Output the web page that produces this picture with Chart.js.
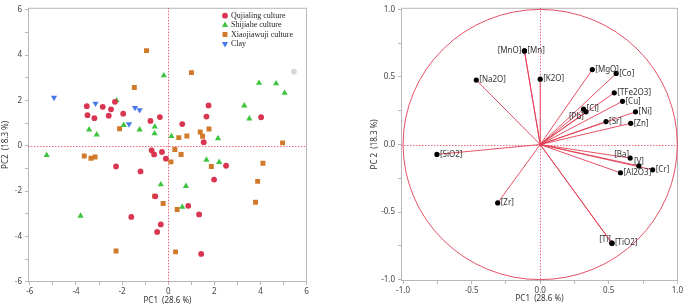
<!DOCTYPE html>
<html lang="en">
<head>
<meta charset="UTF-8">
<title>PCA scores and loadings</title>
<script src="https://cdn.jsdelivr.net/npm/chart.js"></script>
<style>
  body { margin: 0; background: #fff; }
  .box { position: absolute; top: 0; width: 340px; height: 306px; }
  #left { left: 0; }
  #right { left: 345px; }
</style>
</head>
<body>
<div class="box" id="left"><canvas id="scoreChart" width="340" height="306"></canvas></div>
<div class="box" id="right"><canvas id="loadChart" width="340" height="306"></canvas></div>
<script>
// ---- scores plot: [PC1, PC2] per sample ----
const qujialing = [
  [-3.53, 1.75], [-3.5, 1.35], [-3.2, 1.22], [-2.84, 1.72], [-2.48, 1.61], [-2.58, 1.33],
  [-2.31, 1.94], [-1.95, 1.42], [-0.77, 1.1], [-0.36, 1.27], [0.61, 0.96], [1.75, 1.78],
  [1.66, 1.29], [1.54, 0.16], [4.03, 1.26], [-0.72, -0.2], [-0.61, -0.38], [-0.27, -0.27],
  [-0.1, -0.57], [-2.26, -0.91], [-1.2, -1.13], [1.99, -1.49], [2.51, -0.88], [-0.56, -2.23],
  [0.87, -2.65], [1.34, -3.03], [-1.6, -3.14], [-0.32, -3.47], [-0.48, -3.8], [1.43, -4.77]
];
const outlier = [[5.45, 3.27]];
const shijiahe = [
  [-5.27, -0.42], [-3.43, 0.71], [-3.1, 0.49], [-2.24, 2.0], [-1.93, 0.91], [-1.24, 0.71],
  [-0.58, 0.84], [-0.59, 0.54], [-0.19, 3.1], [0.14, 0.42], [2.16, 0.33], [3.3, 1.77],
  [3.52, 1.2], [3.94, 2.77], [4.68, 2.75], [5.05, 2.33], [1.66, -0.62], [2.21, -0.72],
  [-0.32, -1.71], [0.77, -1.78], [0.61, -2.7], [-3.8, -3.09]
];
const xiaojiawuji = [
  [-0.94, 4.2], [1.01, 3.23], [-1.47, 2.57], [-2.11, 0.75], [1.39, 0.61], [1.49, 0.42],
  [1.77, 0.74], [0.46, 0.36], [0.81, 0.43], [4.96, 0.13], [-3.64, -0.45], [-3.35, -0.55],
  [-3.17, -0.49], [0.29, -0.16], [0.56, -0.38], [0.12, -0.71], [1.87, -0.91], [4.11, -0.77],
  [3.88, -1.57], [3.79, -2.49], [-0.59, -2.22], [-0.22, -2.55], [0.39, -2.81], [-2.26, -4.64],
  [0.32, -4.68]
];
const clay = [[-4.95, 2.13], [-3.15, 1.87], [-1.7, 0.96], [-1.44, 1.68], [-1.24, 1.58]];
const scoreTicks = [-6, -5, -4, -3, -2, -1, 0, 1, 2, 3, 4, 5, 6];

// ---- loadings plot ----
const loadNames = ['MnO', 'Mn', 'Na2O', 'K2O', 'MgO', 'Co', 'TFe2O3', 'Cu', 'Cl', 'Pb', 'Ni',
  'Sr', 'Zn', 'SiO2', 'Ba', 'V', 'Cr', 'Al2O3', 'Zr', 'Ti', 'TiO2'];
const loadPC1 = [-0.115, -0.115, -0.466, 0.0, 0.38, 0.554, 0.54, 0.6, 0.316, 0.334, 0.695,
  0.48, 0.66, -0.753, 0.656, 0.72, 0.82, 0.585, -0.31, 0.523, 0.523];
const loadPC2 = [0.693, 0.693, 0.477, 0.484, 0.555, 0.526, 0.383, 0.32, 0.262, 0.242, 0.242,
  0.17, 0.157, -0.073, -0.1, -0.158, -0.187, -0.209, -0.432, -0.73, -0.73];
const loadTicks = [-1, -0.75, -0.5, -0.25, 0, 0.25, 0.5, 0.75, 1];

// where each loading label sits relative to its point
const labelSide = { MnO: 'left', Pb: 'belowLeft', Ba: 'aboveLeft', V: 'above', Ti: 'aboveLeft' };

const toXY = arr => arr.map(p => ({ x: p[0], y: p[1] }));
const tickFont = { family: '"Noto Sans", "Open Sans", sans-serif', size: 8 };
const titleFont = { family: '"Noto Sans", "Open Sans", sans-serif', size: 8 };
const red = 'rgba(226, 62, 84, 0.9)';

// dotted red lines through the origin + grey frame
const zeroLines = {
  id: 'zeroLines',
  beforeDatasetsDraw(chart) {
    const { ctx, chartArea: a, scales: { x, y } } = chart;
    const x0 = x.getPixelForValue(0), y0 = y.getPixelForValue(0);
    ctx.save();
    ctx.strokeStyle = '#b8b8b8';
    ctx.lineWidth = 1;
    ctx.strokeRect(a.left + 0.5, a.top + 0.5, a.width - 1, a.height - 1);
    ctx.strokeStyle = 'rgba(230, 80, 100, 0.85)';
    ctx.setLineDash([1.5, 1.5]);
    ctx.beginPath();
    ctx.moveTo(Math.round(x0) + 0.5, a.top);
    ctx.lineTo(Math.round(x0) + 0.5, a.bottom);
    ctx.moveTo(a.left, Math.round(y0) + 0.5);
    ctx.lineTo(a.right, Math.round(y0) + 0.5);
    ctx.stroke();
    ctx.restore();
  }
};

// legend drawn inside the plot, top right
const scoreLegend = {
  id: 'scoreLegend',
  afterDraw(chart) {
    const ctx = chart.ctx;
    ctx.save();
    ctx.font = '8px "Liberation Serif", "Times New Roman", serif';
    ctx.textBaseline = 'middle';
    let y = 15.7;
    chart.data.datasets.forEach(ds => {
      if (!ds.label) return;
      ctx.fillStyle = ds.backgroundColor;
      Chart.helpers.drawPoint(ctx, { pointStyle: ds.pointStyle, rotation: ds.rotation || 0, radius: ds.pointRadius, borderWidth: 0 }, 225, y);
      ctx.fillStyle = '#222';
      ctx.fillText(ds.label, 231, y);
      y += 9.4;
    });
    ctx.restore();
  }
};

new Chart(document.getElementById('scoreChart'), {
  type: 'scatter',
  data: {
    datasets: [
      { label: 'Qujialing culture', data: toXY(qujialing), pointStyle: 'circle', pointRadius: 2.9, backgroundColor: '#d93551', borderWidth: 0 },
      { label: 'Shijiahe culture', data: toXY(shijiahe), pointStyle: 'triangle', pointRadius: 3.6, backgroundColor: '#3fc43f', borderWidth: 0 },
      { label: 'Xiaojiawuji culture', data: toXY(xiaojiawuji), pointStyle: 'rect', pointRadius: 3.5, backgroundColor: '#d27a2b', borderWidth: 0 },
      { label: 'Clay', data: toXY(clay), pointStyle: 'triangle', rotation: 180, pointRadius: 3.6, backgroundColor: '#4a7ae8', borderWidth: 0 },
      { label: '', data: toXY(outlier), pointStyle: 'circle', pointRadius: 2.9, backgroundColor: '#d6d6d6', borderWidth: 0 }
    ]
  },
  options: {
    responsive: false,
    animation: false,
    events: [],
    layout: { padding: { top: 3, right: 33, left: 0, bottom: 0 } },
    plugins: { legend: { display: false }, tooltip: { enabled: false } },
    scales: {
      x: {
        type: 'linear', min: -6.08, max: 6.02,
        afterBuildTicks: s => { s.ticks = scoreTicks.map(v => ({ value: v })); },
        afterFit: s => { s.height = 24; },
        ticks: { autoSkip: false, maxRotation: 0, padding: 2, font: tickFont, color: '#444',
          callback: v => (v % 2 === 0 ? String(v) : '') },
        grid: { drawOnChartArea: false, tickLength: 3, color: '#b8b8b8' },
        border: { display: false },
        title: { display: true, text: 'PC1  (28.6 %)', font: titleFont, color: '#333', padding: { top: 0, bottom: 0 } }
      },
      y: {
        type: 'linear', min: -6.01, max: 6.09,
        afterBuildTicks: s => { s.ticks = scoreTicks.map(v => ({ value: v })); },
        afterFit: s => { s.width = 28; },
        ticks: { autoSkip: false, padding: 3, font: tickFont, color: '#444',
          callback: v => (v % 2 === 0 ? String(v) : '') },
        grid: { drawOnChartArea: false, tickLength: 3, color: '#b8b8b8' },
        border: { display: false },
        title: { display: true, text: 'PC2  (18.3 %)', font: titleFont, color: '#333', padding: { top: 1, bottom: 0 } }
      }
    }
  },
  plugins: [zeroLines, scoreLegend]
});

// unit circle, vectors from the origin and point labels
const loadingArt = {
  id: 'loadingArt',
  beforeDatasetsDraw(chart) {
    const { ctx, scales: { x, y } } = chart;
    const x0 = x.getPixelForValue(0), y0 = y.getPixelForValue(0);
    ctx.save();
    ctx.strokeStyle = red;
    ctx.lineWidth = 1;
    ctx.beginPath();
    ctx.ellipse(x0, y0, x.getPixelForValue(1) - x0, y0 - y.getPixelForValue(1), 0, 0, Math.PI * 2);
    ctx.stroke();
    ctx.beginPath();
    loadPC1.forEach((v, i) => {
      ctx.moveTo(x0, y0);
      ctx.lineTo(x.getPixelForValue(v), y.getPixelForValue(loadPC2[i]));
    });
    ctx.stroke();
    ctx.restore();
  },
  afterDatasetsDraw(chart) {
    const { ctx, scales: { x, y } } = chart;
    ctx.save();
    ctx.font = '8px "Noto Sans", "Open Sans", sans-serif';
    ctx.fillStyle = '#333';
    ctx.textBaseline = 'middle';
    loadNames.forEach((name, i) => {
      const px = x.getPixelForValue(loadPC1[i]);
      const py = y.getPixelForValue(loadPC2[i]);
      const text = '[' + name + ']';
      const side = labelSide[name] || 'right';
      if (side === 'left') { ctx.textAlign = 'right'; ctx.fillText(text, px - 3, py); }
      else if (side === 'aboveLeft') { ctx.textAlign = 'right'; ctx.fillText(text, px - 1, py - 3.5); }
      else if (side === 'belowLeft') { ctx.textAlign = 'right'; ctx.fillText(text, px - 2, py + 4.5); }
      else if (side === 'above') { ctx.textAlign = 'center'; ctx.fillText(text, px, py - 4); }
      else { ctx.textAlign = 'left'; ctx.fillText(text, px + 3, py); }
    });
    ctx.restore();
  }
};

new Chart(document.getElementById('loadChart'), {
  type: 'scatter',
  data: {
    datasets: [{
      label: 'Loadings',
      data: loadPC1.map((v, i) => ({ x: v, y: loadPC2[i] })),
      pointStyle: 'circle', pointRadius: 2.6, backgroundColor: '#000', borderWidth: 0
    }]
  },
  options: {
    responsive: false,
    animation: false,
    events: [],
    layout: { padding: { top: 3, right: 6, left: 0, bottom: 0 } },
    plugins: { legend: { display: false }, tooltip: { enabled: false } },
    scales: {
      x: {
        type: 'linear', min: -1.015, max: 1.005,
        afterBuildTicks: s => { s.ticks = loadTicks.map(v => ({ value: v })); },
        afterFit: s => { s.height = 25; },
        ticks: { autoSkip: false, maxRotation: 0, padding: 2, font: tickFont, color: '#444',
          callback: v => (Math.abs(v * 2 - Math.round(v * 2)) < 1e-6 ? v.toFixed(1) : '') },
        grid: { drawOnChartArea: false, tickLength: 3, color: '#b8b8b8' },
        border: { display: false },
        title: { display: true, text: 'PC1  (28.6 %)', font: titleFont, color: '#333', padding: { top: 0, bottom: 2 } }
      },
      y: {
        type: 'linear', min: -1.01, max: 1.012,
        afterBuildTicks: s => { s.ticks = loadTicks.map(v => ({ value: v })); },
        afterFit: s => { s.width = 56; },
        ticks: { autoSkip: false, padding: 3, font: tickFont, color: '#444',
          callback: v => (Math.abs(v * 2 - Math.round(v * 2)) < 1e-6 ? v.toFixed(1) : '') },
        grid: { drawOnChartArea: false, tickLength: 3, color: '#b8b8b8' },
        border: { display: false },
        title: { display: true, text: 'PC 2  (18.3 %)', font: titleFont, color: '#333', padding: { top: 25, bottom: 0 } }
      }
    }
  },
  plugins: [zeroLines, loadingArt]
});
</script>
</body>
</html>
